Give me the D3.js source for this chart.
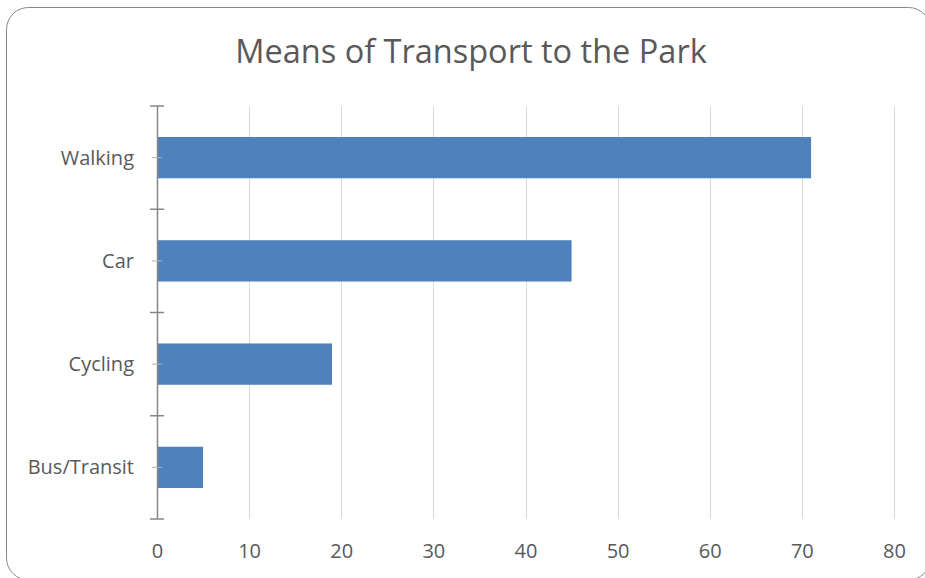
<!DOCTYPE html>
<html><head><meta charset="utf-8">
<script src="https://cdn.jsdelivr.net/npm/d3@7"></script>
<style>body{margin:0;background:#fff;}svg{display:block;}</style>
</head><body>
<svg id="c" width="925" height="578"></svg>
<script>
const title = "Means of Transport to the Park";
const categories = ["Walking", "Car", "Cycling", "Bus/Transit"];
const values = [71, 45, 19, 5];
const xTicks = [0, 10, 20, 30, 40, 50, 60, 70, 80];

const svg = d3.select("#c");
const font = "'Open Sans', sans-serif";
const txt = "#595959";

svg.append("rect").attr("x", 6.5).attr("y", 7.5).attr("width", 924).attr("height", 572.5)
  .attr("rx", 22).attr("fill", "#fff").attr("stroke", "#888").attr("stroke-width", 1);

const L = 157, R = 894, T = 106, B = 519;
const x = d3.scaleLinear().domain([0, 80]).range([L, R]);
const y = d3.scaleBand().domain(categories).range([T, B]).paddingInner(0.6).paddingOuter(0.3);
const yb = d3.scaleBand().domain(categories).range([T, B]);

svg.append("text").attr("x", 471).attr("y", 63).attr("text-anchor", "middle")
  .attr("font-family", font).attr("font-size", 32.5).attr("fill", txt).text(title);

// gridlines
svg.append("g").selectAll("line").data(xTicks.slice(1)).join("line")
  .attr("x1", d => Math.round(x(d)) + 0.5).attr("x2", d => Math.round(x(d)) + 0.5)
  .attr("y1", T).attr("y2", B).attr("stroke", "#d9d9d9").attr("stroke-width", 1);

// bars
svg.append("g").selectAll("rect").data(categories).join("rect")
  .attr("x", x(0)).attr("y", d => y(d)).attr("height", y.bandwidth())
  .attr("width", (d, i) => x(values[i]) - x(0)).attr("fill", "#4f81bd");

// x axis labels
const xa = d3.axisBottom(x).tickValues(xTicks).tickSize(0).tickPadding(0);
const gx = svg.append("g").attr("transform", `translate(0,558)`).call(xa);
gx.select(".domain").remove();
gx.selectAll("text").attr("font-family", font).attr("font-size", 20).attr("fill", txt).attr("dy", 0).attr("y", 0);

// y axis
const yTickPos = categories.map(c => yb(c)).concat([B]);
const ga = svg.append("g");
ga.append("line").attr("x1", L + 0.5).attr("x2", L + 0.5).attr("y1", T).attr("y2", B)
  .attr("stroke", "#868686").attr("stroke-width", 1.5);
ga.selectAll("line.t").data(yTickPos).join("line").attr("class", "t")
  .attr("x1", L - 7).attr("x2", L + 7).attr("y1", d => d).attr("y2", d => d)
  .attr("stroke", "#868686").attr("stroke-width", 1.5);
ga.selectAll("line.m").data(categories).join("line").attr("class", "m")
  .attr("x1", L - 5).attr("x2", L + 5).attr("y1", d => yb(d) + yb.bandwidth() / 2).attr("y2", d => yb(d) + yb.bandwidth() / 2)
  .attr("stroke", "#b0b0b0").attr("stroke-width", 1);
ga.selectAll("text").data(categories).join("text")
  .attr("x", L - 23).attr("y", d => yb(d) + yb.bandwidth() / 2).attr("dy", "0.35em")
  .attr("text-anchor", "end").attr("font-family", font).attr("font-size", 20).attr("fill", txt)
  .text(d => d);
</script>
</body></html>
